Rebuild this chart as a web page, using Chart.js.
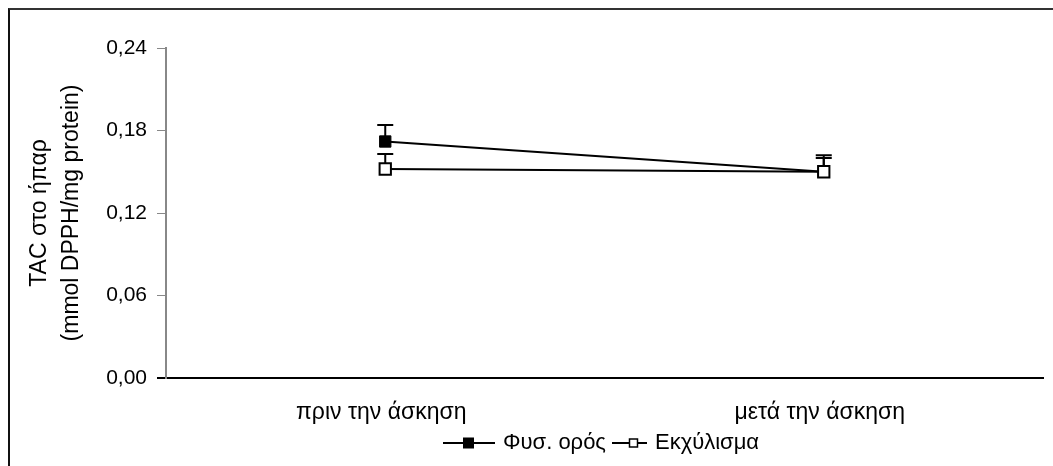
<!DOCTYPE html>
<html>
<head>
<meta charset="utf-8">
<script src="https://cdn.jsdelivr.net/npm/chart.js@4/dist/chart.umd.min.js"></script>
<style>
  html, body { margin: 0; padding: 0; background: #fff; }
  #wrap { position: relative; width: 1053px; height: 466px; overflow: hidden; }
  #frame { position: absolute; left: 8px; top: 8px; width: 1100px; height: 520px;
           border-left: 2px solid #111; border-top: 2px solid #333; pointer-events: none; }
  canvas { position: absolute; left: 0; top: 0; }
</style>
</head>
<body>
<div id="wrap">
  <canvas id="c" width="1053" height="466"></canvas>
  <div id="frame"></div>
</div>
<script>
const categories = ['πριν την άσκηση', 'μετά την άσκηση'];
const seriesNames = ['Φυσ. ορός', 'Εκχύλισμα'];
const serumValues = [0.172, 0.150];
const serumErrors = [0.012, 0.010];
const extractValues = [0.152, 0.150];
const extractErrors = [0.011, 0.012];
const yTicks = [0, 0.06, 0.12, 0.18, 0.24];
const yTitle = ['TAC στο ήπαρ', '(mmol DPPH/mg protein)'];

// legend symbol: line with square marker (canvas used as Chart.js pointStyle)
function legendIcon(filled, size, w, lineFrom, lineTo, cx) {
  const cv = document.createElement('canvas');
  cv.width = w; cv.height = 14;
  const g = cv.getContext('2d');
  g.strokeStyle = '#000'; g.lineWidth = 2;
  g.beginPath(); g.moveTo(lineFrom, 7); g.lineTo(lineTo, 7); g.stroke();
  const h = size / 2;
  if (filled) {
    g.fillStyle = '#000'; g.fillRect(cx - h, 7 - h, size, size);
  } else {
    g.fillStyle = '#fff'; g.fillRect(cx - h, 7 - h, size, size);
    g.lineWidth = 1.5; g.strokeRect(cx - h + 0.5, 7 - h + 0.5, size - 1, size - 1);
  }
  return cv;
}
const icons = [legendIcon(true, 11, 60, 0, 52, 25.5), legendIcon(false, 9, 44, 9, 44, 30.5)];

const errorBars = {
  id: 'errorBars',
  beforeDatasetsDraw(chart) {
    const ctx = chart.ctx;
    const y = chart.scales.y;
    chart.data.datasets.forEach((ds, i) => {
      const meta = chart.getDatasetMeta(i);
      meta.data.forEach((pt, j) => {
        const top = y.getPixelForValue(ds.data[j] + ds.errors[j]);
        ctx.save();
        ctx.strokeStyle = '#000';
        ctx.lineWidth = 2;
        ctx.beginPath();
        ctx.moveTo(pt.x, pt.y);
        ctx.lineTo(pt.x, top);
        ctx.moveTo(pt.x - 8, top);
        ctx.lineTo(pt.x + 8, top);
        ctx.stroke();
        ctx.restore();
      });
    });
  }
};

const legendPlace = {
  id: 'legendPlace',
  afterLayout(chart) {
    const l = chart.legend;
    if (!l) return;
    const w = l.right - l.left, h = l.bottom - l.top;
    l.left = 454; l.right = l.left + w;
    l.top = 432; l.bottom = l.top + h;
    if (!l._noClip) {
      l.draw = function () { if (this.options.display) this._draw(); };
      l._noClip = true;
    }
  }
};

new Chart(document.getElementById('c'), {
  type: 'line',
  data: {
    labels: categories,
    datasets: [
      { label: seriesNames[0], data: serumValues, errors: serumErrors, order: 1,
        borderColor: '#000', borderWidth: 2, backgroundColor: '#000',
        pointStyle: 'rect', pointRadius: 8, pointBorderColor: '#000',
        pointBackgroundColor: '#000', pointBorderWidth: 1, tension: 0 },
      { label: seriesNames[1], data: extractValues, errors: extractErrors, order: 0,
        borderColor: '#000', borderWidth: 2, backgroundColor: '#fff',
        pointStyle: 'rect', pointRadius: 8, pointBorderColor: '#000',
        pointBackgroundColor: '#fff', pointBorderWidth: 2, tension: 0 }
    ]
  },
  options: {
    responsive: false,
    animation: false,
    layout: { padding: { top: 48, right: 0, left: 0, bottom: 0 } },
    plugins: {
      tooltip: { enabled: false },
      legend: {
        position: 'bottom',
        align: 'start',
        labels: {
          usePointStyle: true,
          pointStyleWidth: 38,
          padding: 0,
          color: '#000',
          font: { family: 'Liberation Sans, Arial, sans-serif', size: 22 },
          generateLabels(chart) {
            return chart.data.datasets.map((ds, i) => ({
              text: ds.label, pointStyle: icons[i], datasetIndex: i,
              fillStyle: '#000', strokeStyle: '#000', lineWidth: 0, hidden: false,
              fontColor: '#000'
            }));
          }
        }
      }
    },
    scales: {
      x: {
        offset: true,
        border: { color: '#000', width: 2 },
        grid: { display: false, drawTicks: false },
        afterFit(scale) { scale.height = 56; },
        ticks: {
          padding: 21, color: '#000', labelOffset: -4,
          font: { family: 'Liberation Sans, Arial, sans-serif', size: 23 }
        }
      },
      y: {
        min: 0, max: 0.24,
        afterBuildTicks(scale) { scale.ticks = yTicks.map(v => ({ value: v })); },
        afterFit(scale) { scale.width = 166; },
        border: { color: '#888', width: 2 },
        grid: {
          drawOnChartArea: false, tickLength: 9,
          color: (c) => (c.tick && c.tick.value === 0 ? '#000' : '#888'),
          lineWidth: (c) => (c.tick && c.tick.value === 0 ? 2 : 1)
        },
        ticks: {
          padding: 10, color: '#000',
          font: { family: 'Liberation Sans, Arial, sans-serif', size: 21 },
          callback(v) { return Number(v).toFixed(2).replace('.', ','); }
        },
        title: {
          display: true, text: yTitle, color: '#000',
          font: { family: 'Liberation Sans, Arial, sans-serif', size: 23, lineHeight: 1.39 },
          padding: { top: 24, bottom: 0 }
        }
      }
    }
  },
  plugins: [errorBars, legendPlace]
});
</script>
</body>
</html>
